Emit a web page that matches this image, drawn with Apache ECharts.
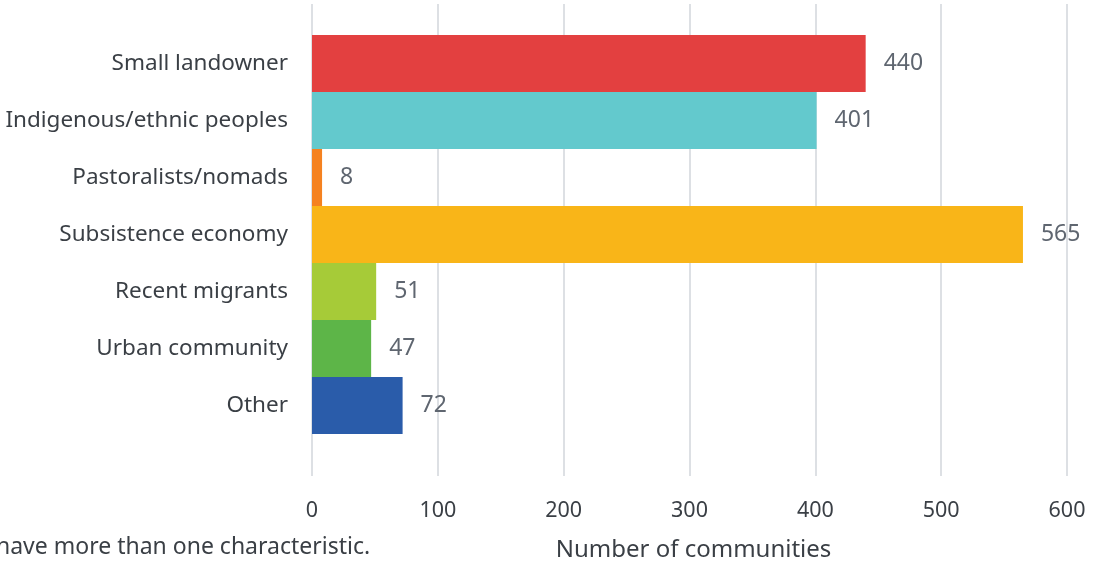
<!DOCTYPE html>
<html>
<head>
<meta charset="utf-8">
<script src="https://cdn.jsdelivr.net/npm/echarts@6/dist/echarts.min.js"></script>
<style>html,body{margin:0;padding:0;background:#fff}#c{width:1099px;height:567px}</style>
</head>
<body>
<div id="c"></div>
<script>
const categories = ["Small landowner","Indigenous/ethnic peoples","Pastoralists/nomads","Subsistence economy","Recent migrants","Urban community","Other"];
const values = [440, 401, 8, 565, 51, 47, 72];
const barColors = ["#e34040","#63c9cd","#f58220","#f9b518","#a6cb38","#5db548","#2a5caa"];
const xTicks = [0, 100, 200, 300, 400, 500, 600];
const axisTitle = "Number of communities";
const footnote = "have more than one characteristic.";

const FONT = "Noto Sans";
const chart = echarts.init(document.getElementById('c'), null, {renderer: 'canvas'});
chart.setOption({
  animation: false,
  textStyle: {fontFamily: FONT},
  grid: [
    {left: 312, right: 32, top: 4, height: 473},
    {left: 312, right: 32, top: 35, height: 399}
  ],
  xAxis: [
    {
      gridIndex: 0, type: 'value', min: xTicks[0], max: xTicks[xTicks.length-1], interval: 100,
      axisLine: {show: false}, axisTick: {show: false},
      splitLine: {show: true, lineStyle: {color: '#dde0e4', width: 2}},
      axisLabel: {fontSize: 21.5, color: '#3a3f45', margin: 24, fontFamily: FONT},
      name: axisTitle, nameLocation: 'middle', nameGap: 62,
      nameTextStyle: {fontSize: 24, color: '#3a3f45', fontFamily: FONT, padding: [0, 0, 0, 8]}
    },
    {
      gridIndex: 1, type: 'value', min: xTicks[0], max: xTicks[xTicks.length-1], show: false
    }
  ],
  yAxis: [
    {gridIndex: 0, type: 'value', show: false},
    {
      gridIndex: 1, type: 'category', data: categories, inverse: true,
      axisLine: {show: false}, axisTick: {show: false}, splitLine: {show: false},
      axisLabel: {fontSize: 22.5, color: '#3a3f45', margin: 24, fontFamily: FONT, padding: [3, 0, 0, 0]}
    }
  ],
  series: [{
    type: 'bar', xAxisIndex: 1, yAxisIndex: 1,
    barCategoryGap: 0,
    data: values.map((v, i) => ({value: v, itemStyle: {color: barColors[i]}})),
    label: {show: true, position: 'right', distance: 18, fontSize: 23, color: '#5f6670', fontFamily: FONT}
  }],
  graphic: [{
    type: 'text', left: -4, top: 536,
    style: {text: footnote, fontSize: 23, fill: '#3a3f45', fontFamily: FONT}
  }]
});
</script>
</body>
</html>
